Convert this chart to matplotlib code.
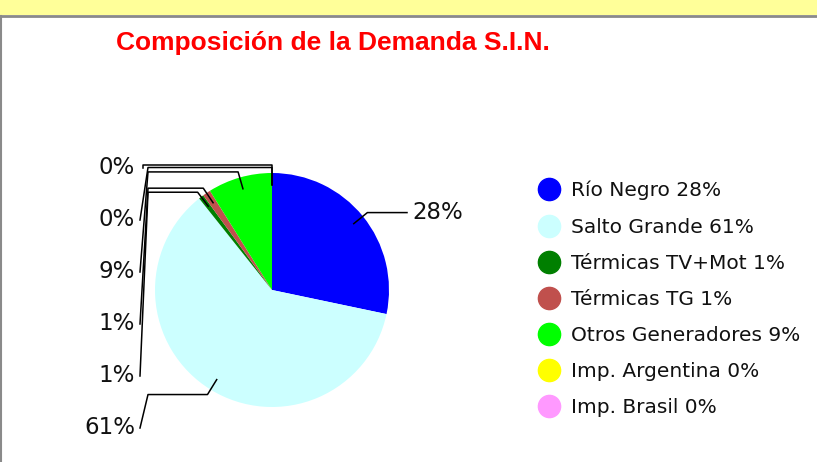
import numpy as np
import matplotlib
matplotlib.use("Agg")
import matplotlib.pyplot as plt
from matplotlib.lines import Line2D
from matplotlib.patches import Rectangle

# ---- data ----
categories = ["Río Negro", "Salto Grande", "Térmicas TV+Mot", "Térmicas TG",
              "Otros Generadores", "Imp. Argentina", "Imp. Brasil"]
values = [28.3, 61.0, 0.7, 1.1, 8.9, 0.0, 0.0]
pct_labels = ["28%", "61%", "1%", "1%", "9%", "0%", "0%"]
legend_pcts = ["28%", "61%", "1%", "1%", "9%", "0%", "0%"]
colors = ["#0000FF", "#CCFFFF", "#007F00", "#C0504D", "#00FF00", "#FFFF00", "#FF99FF"]
title = "Composición de la Demanda S.I.N."

W, H, DPI = 817, 462, 100
fig = plt.figure(figsize=(W / DPI, H / DPI), dpi=DPI)
fig.patch.set_facecolor("white")

# top yellow band and grey frame
fig.patches.append(Rectangle((0, 1 - 15 / H), 1, 15 / H, transform=fig.transFigure,
                             facecolor="#FFFF99", edgecolor="none", zorder=0))
fig.lines.append(Line2D([0, 1], [1 - 16 / H, 1 - 16 / H], transform=fig.transFigure,
                        color="#8a8a8a", lw=2))
fig.lines.append(Line2D([0.7 / W, 0.7 / W], [0, 1 - 16 / H], transform=fig.transFigure,
                        color="#8a8a8a", lw=1.5))

# pie axes covering the full figure, 1 data unit = pie radius
R_PX = 117.0
CX, CY = 272.0, 290.0
ax = fig.add_axes([0, 0, 1, 1])
ax.set_facecolor("none")
wedges, _ = ax.pie(values, colors=colors, startangle=90, counterclock=False,
                   radius=1.0, center=(0, 0),
                   wedgeprops=dict(linewidth=0, antialiased=True))
ax.set_xlim(-CX / R_PX, (W - CX) / R_PX)
ax.set_ylim(-(H - CY) / R_PX, CY / R_PX)
ax.set_aspect("auto")
ax.axis("off")

label_font = dict(fontsize=16.5, color="#111111", family="DejaVu Sans")

# right-side labels (slices whose mid angle is on the right)
left_items = []
for i, w in enumerate(wedges):
    mid = np.deg2rad((w.theta1 + w.theta2) / 2)
    if np.cos(mid) > 0.01:
        ax_, ay_ = 0.9 * np.cos(mid), 0.9 * np.sin(mid)
        ex, ey = 1.05 * np.cos(mid), 1.05 * np.sin(mid)
        hx = (407 - CX) / R_PX
        ax.plot([ax_, ex, hx], [ay_, ey, ey], color="black", lw=1.1)
        ax.text(hx + 5 / R_PX, ey, pct_labels[i], ha="left", va="center", **label_font)
    else:
        left_items.append((i, mid))

# left-side labels: stacked from top, ordered by angle
left_items.sort(key=lambda t: (-np.sin(t[1]), t[0]))
top_y = (CY - 168) / R_PX
step = 52.0 / R_PX
for k, (i, mid) in enumerate(left_items):
    r_el = 1.065 - 0.018 * k if values[i] == 0 else 1.05
    ax_, ay_ = 0.9 * np.cos(mid), 0.9 * np.sin(mid)
    ex, ey = r_el * np.cos(mid), r_el * np.sin(mid)
    hx = (148 - CX) / R_PX if k > 0 else (143 - CX) / R_PX
    ly = top_y - k * step
    px = (140 - CX) / R_PX if k > 0 else hx
    ax.plot([ax_, ex, hx, px], [ay_, ey, ey, ly], color="black", lw=1.1)
    ax.text((135 - CX) / R_PX, ly, pct_labels[i], ha="right", va="center", **label_font)

# legend
handles = [Line2D([], [], marker="o", linestyle="none", markersize=16,
                  markerfacecolor=c, markeredgecolor=c)
           for c in colors]
names = [f"{n} {p}" for n, p in zip(categories, legend_pcts)]
leg = fig.legend(handles, names, loc="upper left",
                 bbox_to_anchor=(539 / W, 1 - 181 / H),
                 frameon=False, fontsize=14.5, handlelength=1.0,
                 handletextpad=0.6, labelspacing=0.85, borderpad=0, borderaxespad=0)
for t in leg.get_texts():
    t.set_color("#111111")

fig.text(333 / W, 1 - 43 / H, title, ha="center", va="center", color="#FF0000",
         fontsize=19, fontweight="bold", family="Liberation Sans")

fig.savefig("out.png", dpi=DPI)
